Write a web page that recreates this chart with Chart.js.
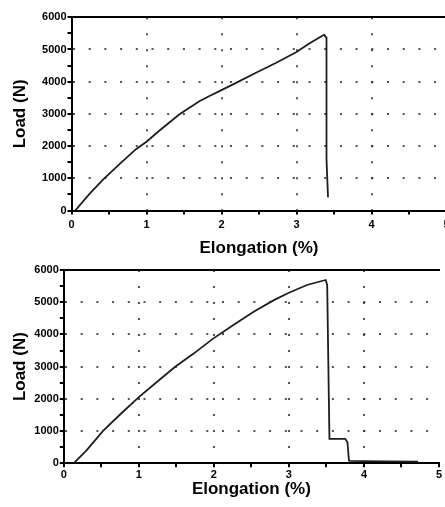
<!DOCTYPE html>
<html>
<head>
<meta charset="utf-8">
<script src="https://cdn.jsdelivr.net/npm/chart.js@4.4.1/dist/chart.umd.min.js"></script>
<style>
  html, body { margin: 0; padding: 0; background: #fff; }
  #wrap { position: relative; width: 445px; height: 507px; overflow: hidden; background: #fff; }
  canvas { position: absolute; left: 0; }
  #chart_top { top: 0; }
  #chart_bottom { top: 255px; }
</style>
</head>
<body>
<div id="wrap">
  <canvas id="chart_top" width="470" height="260"></canvas>
  <canvas id="chart_bottom" width="470" height="252"></canvas>
</div>
<script>
// upper specimen: elongation (%) / load (N)
const topElongation = [0.05, 0.24, 0.42, 0.64, 0.86, 1.00, 1.17, 1.44, 1.71, 1.84, 2.00, 2.20, 2.46, 2.73, 3.00, 3.17, 3.35, 3.37, 3.40, 3.40, 3.40, 3.42];
const topLoad       = [0, 515, 960, 1440, 1905, 2135, 2475, 2990, 3400, 3555, 3740, 3970, 4280, 4590, 4920, 5185, 5435, 5455, 5360, 4125, 1600, 410];

// lower specimen
const bottomElongation = [0.13, 0.30, 0.52, 0.75, 1.00, 1.24, 1.48, 1.73, 1.99, 2.26, 2.53, 2.80, 3.00, 3.24, 3.49, 3.51, 3.54, 3.75, 3.78, 3.80, 3.81, 4.00, 4.30, 4.72];
const bottomLoad       = [0, 395, 1000, 1515, 2055, 2525, 2990, 3405, 3870, 4290, 4705, 5065, 5295, 5535, 5690, 5535, 760, 760, 655, 85, 75, 65, 60, 55];

// axis ranges and labels
const xMin = 0, xMax = 5, xStep = 0.5;
const yMin = 0, yMax = 6000, yStep = 500;
const xTitle = 'Elongation (%)';
const yTitle = 'Load (N)';

const dotColor = 'rgba(40,40,40,0.8)';
const tickFont = { family: "'Liberation Sans', Arial, sans-serif", size: 11, weight: 'bold' };
const titleFont = { family: "'Liberation Sans', Arial, sans-serif", size: 17, weight: 'bold', lineHeight: 1.2 };

// fix the axis box size so the plot area lands where the original has it
function fixSize(size, horizontal) {
  return (scale) => {
    if (horizontal) scale.height = size; else scale.width = size;
    scale.paddingLeft = 0;
    scale.paddingRight = 0;
    scale.paddingTop = 0;
    scale.paddingBottom = 0;
  };
}

function makeConfig(xs, ys, g) {
  return {
    type: 'scatter',
    data: {
      datasets: [{
        data: xs.map((x, i) => ({ x: x, y: ys[i] })),
        showLine: true,
        borderColor: '#1e1e1e',
        borderWidth: 1.8,
        pointRadius: 0,
        tension: 0,
      }],
    },
    options: {
      responsive: false,
      animation: false,
      layout: { padding: g.padding },
      plugins: {
        legend: { display: false },
        tooltip: { enabled: false },
      },
      scales: {
        x: {
          type: 'linear',
          position: 'bottom',
          min: xMin,
          max: xMax,
          ticks: {
            stepSize: xStep,
            autoSkip: false,
            maxRotation: 0,
            padding: g.xTickPad,
            color: '#000',
            font: tickFont,
            callback: (v) => Number.isInteger(v) ? String(v) : '',
          },
          grid: {
            color: (ctx) => (ctx.tick && Number.isInteger(ctx.tick.value) && ctx.tick.value > xMin && ctx.tick.value < xMax) ? dotColor : 'transparent',
            lineWidth: 2,
            tickLength: 4,
            tickColor: '#000',
            tickWidth: 2,
          },
          border: { color: '#000', width: 2, dash: [2, 14] },
          title: { display: true, text: xTitle, color: '#000', font: titleFont, padding: { top: 0, bottom: g.xTitlePad } },
          afterFit: fixSize(g.xHeight, true),
        },
        // top frame line only
        x2: {
          type: 'linear',
          position: 'top',
          min: xMin,
          max: xMax,
          ticks: { display: false },
          grid: { display: false, drawTicks: false },
          border: { color: '#000', width: 2 },
          afterFit: fixSize(0, true),
        },
        y: {
          type: 'linear',
          position: 'left',
          min: yMin,
          max: yMax,
          ticks: {
            stepSize: yStep,
            autoSkip: false,
            padding: 1,
            color: '#000',
            font: tickFont,
            callback: (v) => v % 1000 === 0 ? String(v) : '',
          },
          grid: {
            color: (ctx) => (ctx.tick && ctx.tick.value % 1000 === 0 && ctx.tick.value > yMin && ctx.tick.value < yMax) ? dotColor : 'transparent',
            lineWidth: 2,
            tickLength: 4,
            tickColor: '#000',
            tickWidth: 2,
          },
          border: { color: '#000', width: 2, dash: [2, 13.7] },
          title: { display: true, text: yTitle, color: '#000', font: titleFont, padding: { top: 9.8, bottom: 0 } },
          afterFit: fixSize(g.yWidth, false),
        },
      },
    },
  };
}

new Chart(document.getElementById('chart_top'), makeConfig(topElongation, topLoad, {
  padding: { left: 0, top: 17.3, right: 23.5, bottom: 0 },
  yWidth: 71.5,
  xHeight: 49.5,
  xTickPad: 4,
  xTitlePad: 1.5,
}));

new Chart(document.getElementById('chart_bottom'), makeConfig(bottomElongation, bottomLoad, {
  padding: { left: 0, top: 15, right: 31, bottom: 0 },
  yWidth: 63.8,
  xHeight: 43.7,
  xTickPad: 1.5,
  xTitlePad: 7,
}));
</script>
</body>
</html>
